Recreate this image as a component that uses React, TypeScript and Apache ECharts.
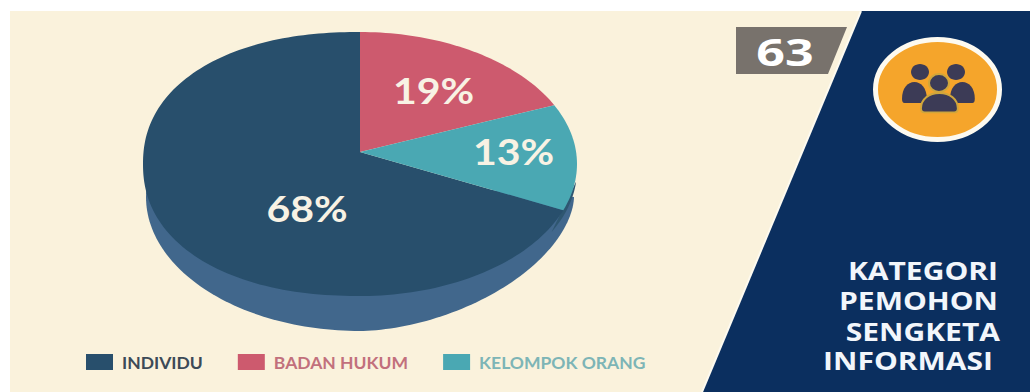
import React, { useEffect, useRef } from "react";
import * as echarts from "echarts";

const sliceNames = ["BADAN HUKUM", "KELOMPOK ORANG", "INDIVIDU"];
const sliceShares = [19, 13, 68];
const sliceColors = ["#cd5a6e", "#4aa8b3", "#284f6c"];
const legendOrder = ["INDIVIDU", "BADAN HUKUM", "KELOMPOK ORANG"];
const legendTextColors = ["#3c4a57", "#c2707c", "#7db5b6"];
const headingLines = ["KATEGORI", "PEMOHON", "SENGKETA", "INFORMASI"];
const pageNumber = "63";

// Tilted disc outlines; nl and nr are the superellipse exponents of the left and right halves.
type Outline = { cx: number; cy: number; rx: number; ry: number; nl: number; nr: number };
const TOP: Outline = { cx: 360, cy: 164, rx: 217, ry: 132, nl: 2.2, nr: 2 };
const RIM: Outline = { cx: 360, cy: 197, rx: 214, ry: 134, nl: 2, nr: 1.75 };
const HUB_Y = 152;
const WALL_COLOR = "#41678c";
const WALL_EDGE_COLOR = "#2e5670";
const LABEL_WIDEN = 1.14;
const LABEL_ANCHORS: Record<string, [number, number]> = {
  "BADAN HUKUM": [433.5, 90.5],
  "KELOMPOK ORANG": [513.5, 151],
  INDIVIDU: [307, 208],
};
const HEADING_RIGHT = [998, 998, 1000, 993];
const HEADING_Y = [270, 300, 331, 360];
const rad = (d: number) => (d * Math.PI) / 180;

// Where a ray leaving the hub at a true pie angle meets the top outline.
function rimPoint(deg: number): number[] {
  const a = rad(deg);
  const s = Math.sin(a);
  const c = Math.cos(a);
  const n = s < 0 ? TOP.nl : TOP.nr;
  const ay = (HUB_Y - TOP.cy) / TOP.ry;
  let lo = 0;
  let hi = 2;
  for (let i = 0; i < 30; i++) {
    const t = (lo + hi) / 2;
    const inside = Math.abs(t * s) ** n + Math.abs(ay - t * c) ** n < 1;
    if (inside) lo = t;
    else hi = t;
  }
  return [TOP.cx + TOP.rx * lo * s, TOP.cy + TOP.ry * (ay - lo * c)];
}

function outlineArc(e: Outline, from: number, to: number): number[][] {
  const pts: number[][] = [];
  const steps = Math.max(2, Math.ceil(Math.abs(to - from) / 1.5));
  for (let i = 0; i <= steps; i++) {
    const a = rad(from + ((to - from) * i) / steps);
    const s = Math.sin(a);
    const c = Math.cos(a);
    const n = s < 0 ? e.nl : e.nr;
    pts.push([
      e.cx + e.rx * Math.sign(s) * Math.abs(s) ** (2 / n),
      e.cy - e.ry * Math.sign(c) * Math.abs(c) ** (2 / n),
    ]);
  }
  return pts;
}

function sliceSeries(index: number, startShare: number) {
  const name = sliceNames[index];
  const color = sliceColors[index];
  const carriesWall = name === "INDIVIDU";
  return {
    type: "custom",
    name,
    coordinateSystem: "none",
    // The slice that owns the side wall goes underneath the other two.
    z: carriesWall ? 2 : 3,
    itemStyle: { color },
    data: [[sliceShares[index]]],
    renderItem: (_params: any, api: any) => {
      const share = api.value(0) as number;
      const from = startShare * 3.6;
      const to = (startShare + share) * 3.6;
      const face: number[][] = [[TOP.cx, HUB_Y]];
      const steps = Math.ceil((to - from) / 1.5);
      for (let i = 0; i <= steps; i++) face.push(rimPoint(from + ((to - from) * i) / steps));
      const children: any[] = [];
      if (carriesWall) {
        children.push({
          type: "polygon",
          shape: { points: outlineArc(RIM, 90, 285) },
          style: { fill: WALL_COLOR },
        });
        children.push({
          type: "polygon",
          shape: { points: outlineArc({ ...TOP, cy: TOP.cy + 6 }, 95, 118) },
          style: { fill: WALL_EDGE_COLOR },
        });
      }
      children.push({ type: "polygon", shape: { points: face }, style: { fill: color } });
      const [lx, ly] = LABEL_ANCHORS[name];
      children.push({
        type: "text",
        z2: 10,
        x: lx,
        y: ly,
        scaleX: LABEL_WIDEN,
        style: {
          text: `${share}%`,
          x: 0,
          y: 0,
          fill: "#f8f2e4",
          font: "700 36px Lato",
          align: "center",
          verticalAlign: "middle",
        },
      });
      return { type: "group", children };
    },
  };
}

echarts.graphic.registerShape(
  "personBody",
  echarts.graphic.extendPath("M0 16C0 6 9 0 20 0C31 0 40 6 40 16Q40 20 36 20L4 20Q0 20 0 16Z", {}) as any,
);

function backdrop(): any[] {
  const icon = "#3c3b56";
  const orange = "#f5a52b";
  const ringed = "#cfa63c";
  return [
    { type: "rect", z: -10, shape: { x: 10, y: 11, width: 1020, height: 381 }, style: { fill: "#faf2dc" } },
    {
      type: "polygon",
      z: -9,
      shape: { points: [[861, 11], [1030, 11], [1030, 392], [702, 392]] },
      style: { fill: "#0b2f5f" },
    },
    { type: "line", z: -8, shape: { x1: 861, y1: 11, x2: 702, y2: 392 }, style: { stroke: "#fdfaf0", lineWidth: 2 } },
    {
      type: "polygon",
      z: -8,
      shape: { points: [[736, 27], [847, 27], [828, 74], [736, 74]] },
      style: { fill: "#78726c" },
    },
    {
      type: "text",
      z: -7,
      x: 785,
      y: 51,
      scaleX: 1.32,
      style: {
        text: pageNumber,
        x: 0,
        y: 0,
        fill: "#ffffff",
        font: "700 38px 'Open Sans'",
        align: "center",
        verticalAlign: "middle",
      },
    },
    {
      type: "ellipse",
      z: -8,
      shape: { cx: 937.5, cy: 89.5, rx: 62, ry: 50 },
      style: { fill: orange, stroke: "#fdfaf0", lineWidth: 5 },
    },
    { type: "personBody", z: -7, x: 902, y: 82, scaleX: 0.62, scaleY: 1.05, style: { fill: icon } },
    { type: "personBody", z: -7, x: 950, y: 82, scaleX: 0.62, scaleY: 1.05, style: { fill: icon } },
    { type: "ellipse", z: -7, shape: { cx: 920, cy: 72, rx: 9, ry: 8 }, style: { fill: icon } },
    { type: "ellipse", z: -7, shape: { cx: 956, cy: 72, rx: 9, ry: 8 }, style: { fill: icon } },
    {
      type: "ellipse",
      z: -6,
      shape: { cx: 939, cy: 83, rx: 10, ry: 9 },
      style: { fill: icon, stroke: ringed, lineWidth: 2 },
    },
    {
      type: "personBody",
      z: -6,
      x: 921,
      y: 93,
      scaleX: 0.92,
      scaleY: 0.97,
      style: { fill: icon, stroke: ringed, lineWidth: 2 },
    },
    ...headingLines.map((line, i) => ({
      type: "text",
      z: -7,
      x: HEADING_RIGHT[i],
      y: HEADING_Y[i],
      scaleX: 1.2,
      style: {
        text: line,
        x: 0,
        y: 0,
        fill: "#f2f6fb",
        font: "700 25px 'Open Sans'",
        align: "right",
        verticalAlign: "middle",
      },
    })),
  ];
}

export default function App() {
  const ref = useRef<HTMLDivElement>(null);
  useEffect(() => {
    document.body.style.margin = "0";
    const chart = echarts.init(ref.current!, undefined, { renderer: "svg" });
    let running = 0;
    const series = sliceNames.map((_, i) => {
      const s = sliceSeries(i, running);
      running += sliceShares[i];
      return s;
    });
    chart.setOption({
      animation: false,
      backgroundColor: "#ffffff",
      tooltip: { show: false },
      legend: {
        left: 86,
        top: 353,
        padding: 0,
        itemWidth: 27,
        itemHeight: 16,
        itemGap: 35,
        itemStyle: { borderWidth: 0 },
        icon: "rect",
        data: legendOrder.map((name, i) => ({
          name,
          textStyle: { color: legendTextColors[i] },
        })),
        textStyle: { fontFamily: "Lato", fontWeight: 700, fontSize: 17.5, padding: [0, 0, 0, 4] },
      },
      graphic: { elements: backdrop() },
      series,
    });
    return () => chart.dispose();
  }, []);
  return <div ref={ref} style={{ position: "absolute", left: 0, top: 0, width: 1030, height: 392 }} />;
}
